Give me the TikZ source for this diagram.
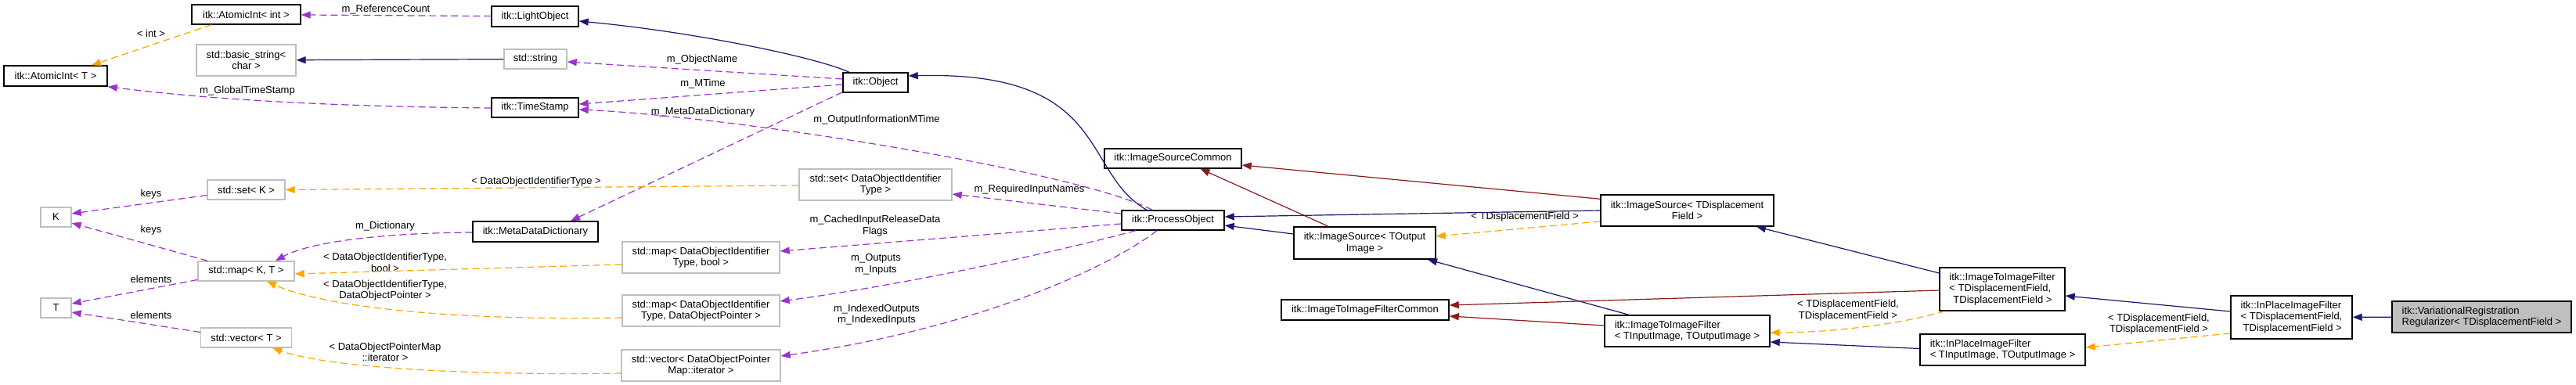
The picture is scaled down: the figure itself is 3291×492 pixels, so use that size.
\documentclass[tikz,border=0pt]{standalone}
\usepackage{fontspec}
\setmainfont{Liberation Sans}
\usepackage{tikz}
\usetikzlibrary{arrows.meta,calc}

\definecolor{azulheranca}{RGB}{25,25,112}
\definecolor{vermelhopriv}{RGB}{139,26,26}
\definecolor{roxouso}{RGB}{154,50,205}
\definecolor{laranjamodelo}{RGB}{255,165,0}
\definecolor{cinzaborda}{RGB}{191,191,191}

\begin{document}
\begin{tikzpicture}[
    x=1pt, y=-1pt,
    font=\fontsize{13}{14.5}\selectfont,
    classe/.style={draw, line width=1.4pt, inner sep=0pt, align=center},
    semdoc/.style={classe, draw=cinzaborda},
    principal/.style={classe, fill=cinzaborda},
    rotulo/.style={inner sep=0pt, align=center},
    heranca/.style={-{Triangle[length=12pt, width=9pt]}, line width=1.2pt, color=azulheranca},
    privada/.style={-{Triangle[length=12pt, width=9pt]}, line width=1.2pt, color=vermelhopriv},
    uso/.style={-{Triangle[length=12pt, width=9pt]}, line width=1.2pt, color=roxouso, dash pattern=on 9pt off 5pt},
    modelo/.style={-{Triangle[length=12pt, width=9pt]}, line width=1.2pt, color=laranjamodelo, dash pattern=on 9pt off 5pt}
  ]
    \useasboundingbox (0,0) rectangle (3291,492);

    \node[classe, minimum width=139, minimum height=25] (aint) at (314.5,18.5) {itk::AtomicInt< int >};
    \node[classe, minimum width=132, minimum height=26] (aintT) at (71,97) {itk::AtomicInt< T >};
    \node[semdoc, minimum width=127, minimum height=40] (bstr) at (314.5,77) {std::basic\_string<\\char >};
    \node[semdoc, minimum width=99, minimum height=25] (setK) at (314.5,242.5) {std::set< K >};
    \node[semdoc, minimum width=39, minimum height=25] (K) at (71.5,277.5) {K};
    \node[semdoc, minimum width=123, minimum height=25] (mapKT) at (314.5,346.5) {std::map< K, T >};
    \node[semdoc, minimum width=39, minimum height=25] (T) at (71.5,393.5) {T};
    \node[semdoc, minimum width=116, minimum height=25] (vecT) at (314.5,431.5) {std::vector< T >};

    \node[classe, minimum width=111, minimum height=26] (lobj) at (683.5,21) {itk::LightObject};
    \node[semdoc, minimum width=80, minimum height=25] (str) at (684,75.5) {std::string};
    \node[classe, minimum width=111, minimum height=25] (tstamp) at (683.5,137.5) {itk::TimeStamp};
    \node[classe, minimum width=160, minimum height=26] (mdd) at (684,296) {itk::MetaDataDictionary};

    \node[classe, minimum width=83, minimum height=25] (obj) at (1118.5,105.5) {itk::Object};
    \node[semdoc, minimum width=195, minimum height=40] (setD) at (1118.5,236) {std::set< DataObjectIdentifier\\Type >};
    \node[semdoc, minimum width=201, minimum height=40] (mapDb) at (895.5,329) {std::map< DataObjectIdentifier\\Type, bool >};
    \node[semdoc, minimum width=201, minimum height=40] (mapDP) at (895.5,397) {std::map< DataObjectIdentifier\\Type, DataObjectPointer >};
    \node[semdoc, minimum width=203, minimum height=40] (vecD) at (895.5,467) {std::vector< DataObjectPointer\\Map::iterator >};

    \node[classe, minimum width=131, minimum height=25] (po) at (1498.5,281.5) {itk::ProcessObject};
    \node[classe, minimum width=175, minimum height=25] (isc) at (1498.5,202.5) {itk::ImageSourceCommon};
    \node[classe, minimum width=181, minimum height=41] (isO) at (1743.5,310.5) {itk::ImageSource< TOutput\\Image >};
    \node[classe, minimum width=214, minimum height=26] (itifc) at (1744,396) {itk::ImageToImageFilterCommon};
    \node[classe, minimum width=221, minimum height=40] (isD) at (2155.5,269) {itk::ImageSource< TDisplacement\\Field >};
    \node[classe, minimum width=211, minimum height=40, align=left] (itifIO) at (2155.5,423) {itk::ImageToImageFilter\\< TInputImage, TOutputImage >};
    \node[classe, minimum width=160, minimum height=55, align=left] (itifD) at (2558,369.5) {itk::ImageToImageFilter\\< TDisplacementField,\\\hspace{5pt}TDisplacementField >};
    \node[classe, minimum width=211, minimum height=40, align=left] (ipifIO) at (2558.5,447) {itk::InPlaceImageFilter\\< TInputImage, TOutputImage >};
    \node[classe, minimum width=155, minimum height=55, align=left] (ipifD) at (2927.5,405.5) {itk::InPlaceImageFilter\\< TDisplacementField,\\\hspace{3pt}TDisplacementField >};
    \node[principal, minimum width=229, minimum height=40, align=left] (vrr) at (3170.5,405) {itk::VariationalRegistration\\Regularizer< TDisplacementField >};

    \node[rotulo] (lint) at (193,43) {< int >};
    \node[rotulo] (lrefc) at (493,12) {m\_ReferenceCount};
    \node[rotulo] (lgts) at (316,116) {m\_GlobalTimeStamp};
    \node[rotulo] (lkeysa) at (193,248) {keys};
    \node[rotulo] (lkeysb) at (193,294) {keys};
    \node[rotulo] (lelema) at (193,357) {elements};
    \node[rotulo] (lelemb) at (193,403) {elements};
    \node[rotulo] (ldict) at (492,289) {m\_Dictionary};
    \node[rotulo] (lmapb) at (492,335.5) {< DataObjectIdentifierType,\\bool >};
    \node[rotulo] (lmapp) at (492,371) {< DataObjectIdentifierType,\\DataObjectPointer >};
    \node[rotulo] (lvec) at (492,450) {< DataObjectPointerMap\\::iterator >};
    \node[rotulo] (lobjn) at (897,76) {m\_ObjectName};
    \node[rotulo] (lmtime) at (898,107) {m\_MTime};
    \node[rotulo] (lmdd) at (898,143) {m\_MetaDataDictionary};
    \node[rotulo] (lsetd) at (685,232) {< DataObjectIdentifierType >};
    \node[rotulo] (loimt) at (1120,153) {m\_OutputInformationMTime};
    \node[rotulo] (lreq) at (1315,242) {m\_RequiredInputNames};
    \node[rotulo] (lcache) at (1118,288.5) {m\_CachedInputReleaseData\\Flags};
    \node[rotulo] (lout) at (1119,338) {m\_Outputs\\m\_Inputs};
    \node[rotulo] (lidx) at (1120,402) {m\_IndexedOutputs\\m\_IndexedInputs};
    \node[rotulo] (ltdf) at (1948,277) {< TDisplacementField >};
    \node[rotulo] (ltdfa) at (2361,396.5) {< TDisplacementField,\\TDisplacementField >};
    \node[rotulo] (ltdfb) at (2758,414) {< TDisplacementField,\\TDisplacementField >};

    \draw[modelo] ($(aint.south)+(-44.5,0)$) -- ($(aintT.north)+(46,0)$);
    \draw[uso] (lobj) -- (aint);
    \draw[heranca] (str) -- (bstr);
    \draw[uso] ($(tstamp.west)+(0,0.5)$) .. controls (400,136) and (250,125) .. (aintT.south east);
    \draw[heranca] ($(obj.north)+(-33.5,0)$) .. controls (1040,72) and (880,40) .. ($(lobj.east)+(0,6)$);
    \draw[uso] ($(obj.west)+(0,-4.5)$) -- ($(str.east)+(0,3.5)$);
    \draw[uso] ($(obj.west)+(0,2.5)$) -- ($(tstamp.east)+(0,-4.5)$);
    \draw[uso] ($(obj.south west)+(0,-1)$) -- ($(mdd.north)+(45,0)$);
    \draw[heranca] ($(po.north)+(-33.5,0)$) .. controls (1380,220) and (1420,90) .. ($(obj.east)+(0,-8.5)$);
    \draw[uso] ($(po.north)+(-26.5,0)$) .. controls (1380,220) and (950,150) .. ($(tstamp.east)+(0,2.5)$);
    \draw[uso] ($(po.west)+(0,-8.5)$) -- ($(setD.east)+(0,12)$);
    \draw[uso] ($(po.west)+(0,4.5)$) -- ($(mapDb.east)+(0,-8)$);
    \draw[uso] ($(po.south)+(-47.5,0)$) .. controls (1350,322) and (1150,365) .. ($(mapDP.east)+(0,-12)$);
    \draw[uso] ($(po.south)+(-20.5,0)$) .. controls (1420,340) and (1250,420) .. ($(vecD.east)+(0,-12)$);
    \draw[modelo] ($(setD.west)+(0,1)$) -- (setK.east);
    \draw[uso] ($(setK.west)+(0,7)$) -- ($(K.east)+(0,-4.5)$);
    \draw[uso] ($(mapKT.north west)+(13,0)$) -- ($(K.east)+(0,7.5)$);
    \draw[uso] ($(mapKT.west)+(0,11)$) -- ($(T.east)+(0,-5.5)$);
    \draw[uso] ($(vecT.west)+(0,-7)$) -- ($(T.east)+(0,5.5)$);
    \draw[uso] ($(mdd.west)+(0,1)$) .. controls (470,298) and (390,312) .. ($(mapKT.north)+(37.5,0)$);
    \draw[modelo] ($(mapDb.west)+(0,9)$) -- ($(mapKT.east)+(0,3.5)$);
    \draw[modelo] ($(mapDP.west)+(0,9)$) .. controls (600,410) and (420,395) .. ($(mapKT.south)+(26.5,0)$);
    \draw[modelo] ($(vecD.west)+(0,10)$) .. controls (600,480) and (420,470) .. ($(vecT.south)+(33.5,0)$);
    \draw[heranca] ($(isO.west)+(0,-11.5)$) -- ($(po.east)+(0,6.5)$);
    \draw[privada] ($(isO.north)+(-46.5,0)$) -- ($(isc.south)+(35,0)$);
    \draw[privada] ($(isD.north west)+(0,6)$) -- ($(isc.east)+(0,8.5)$);
    \draw[heranca] (isD.west) -- ($(po.east)+(0,-4.5)$);
    \draw[modelo] ($(isD.west)+(0,14)$) -- ($(isO.east)+(0,-8.5)$);
    \draw[heranca] ($(itifIO.north)+(-74.5,0)$) -- ($(isO.south)+(80.5,0)$);
    \draw[privada] ($(itifIO.west)+(0,-7)$) -- ($(itifc.east)+(0,8)$);
    \draw[privada] ($(itifD.west)+(0,1.5)$) -- ($(itifc.east)+(0,-6)$);
    \draw[heranca] ($(itifD.west)+(0,-20.5)$) -- ($(isD.south)+(88.5,0)$);
    \draw[modelo] ($(itifD.south west)+(7,0)$) .. controls (2430,414) and (2340,425) .. ($(itifIO.east)+(0,2)$);
    \draw[heranca] ($(ipifIO.west)+(0,-1.5)$) -- ($(itifIO.east)+(0,14)$);
    \draw[heranca] ($(ipifD.west)+(0,-7.5)$) -- ($(itifD.east)+(0,8.5)$);
    \draw[modelo] ($(ipifD.west)+(0,20.5)$) -- ($(ipifIO.east)+(0,-3)$);
    \draw[heranca] (vrr) -- (ipifD);
  \end{tikzpicture}
\end{document}
